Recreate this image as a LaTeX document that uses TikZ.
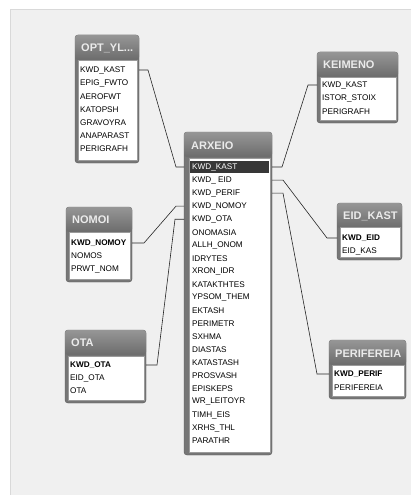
\documentclass[tikz,border=0pt]{standalone}
\usepackage{fontspec}
\setmainfont{Liberation Sans}
\usetikzlibrary{calc}
\definecolor{canvasgray}{RGB}{240,240,240}
\definecolor{hdrtop}{RGB}{150,150,150}
\definecolor{hdrbot}{RGB}{108,108,108}
\definecolor{framegray}{RGB}{118,118,118}
\definecolor{frameedge}{RGB}{88,88,88}
\definecolor{selrow}{RGB}{55,55,55}

\tikzset{
  tblframe/.style={draw=frameedge, fill=framegray, rounded corners=3pt, inner sep=0pt, outer sep=0pt, anchor=north west},
  tblhead/.style={rounded corners=3pt, top color=hdrtop, bottom color=hdrbot, inner sep=0pt, outer sep=0pt, anchor=north west, minimum height=25pt},
  tbltitle/.style={font=\fontsize{11}{12}\selectfont\bfseries, text=white!92!black, anchor=west, inner sep=0pt},
  tblbody/.style={draw=frameedge!60, fill=white, inner sep=0pt, outer sep=0pt, anchor=north west},
  field/.style={font=\fontsize{8.2}{9}\selectfont, anchor=west, inner sep=0pt, text=black},
  keyfield/.style={field, font=\fontsize{8.2}{9}\selectfont\bfseries, text=black},
  link/.style={draw=black!85, line width=0.6pt},
}

\begin{document}
\begin{tikzpicture}[x=1pt, y=-1pt]
  \useasboundingbox (0,0) rectangle (411,495);
  \fill[canvasgray] (10,9) rectangle (411,495);
  \draw[black!15] (10,495) -- (10,9) -- (411,9);

  % OPT_YL... table
  \node[tblframe, minimum width=64pt, minimum height=128pt] (opt) at (75,35) {};
  \node[tblhead, minimum width=64pt] (opthead) at (75,35) {};
  \node[tbltitle] (opttitle) at (81,48) {OPT\_YL...};
  \node[tblbody, minimum width=59pt, minimum height=100pt] (optbody) at (78,60) {};
  \foreach \name [count=\i] in {KWD\_KAST, EPIG\_FWTO, AEROFWT, KATOPSH, GRAVOYRA, ANAPARAST, PERIGRAFH}
    \node[field] (opt-\i) at (80,{70+13.1*(\i-1)}) {\name};

  % ARXEIO table
  \node[tblframe, minimum width=88pt, minimum height=323pt] (arx) at (184,132) {};
  \node[tblhead, minimum width=88pt] (arxhead) at (184,132) {};
  \node[tbltitle] (arxtitle) at (191,146) {ARXEIO};
  \node[tblbody, minimum width=81pt, minimum height=294pt] (arxbody) at (189,158) {};
  \fill[selrow] (190,161) rectangle (269,173);
  \node[field, text=white] (arx-1) at (192,167) {KWD\_KAST};
  \foreach \name [count=\i from 2] in {KWD\_ EID, KWD\_PERIF, KWD\_NOMOY, KWD\_OTA, ONOMASIA, ALLH\_ONOM, IDRYTES, XRON\_IDR, KATAKTHTES, YPSOM\_THEM, EKTASH, PERIMETR, SXHMA, DIASTAS, KATASTASH, PROSVASH, EPISKEPS, WR\_LEITOYR, TIMH\_EIS, XRHS\_THL, PARATHR}
    \node[field] (arx-\i) at (192,{167+13.05*(\i-1)}) {\name};

  % KEIMENO table
  \node[tblframe, minimum width=81pt, minimum height=71pt] (kei) at (317,52) {};
  \node[tblhead, minimum width=81pt] (keihead) at (317,52) {};
  \node[tbltitle] (keititle) at (323,65) {KEIMENO};
  \node[tblbody, minimum width=76pt, minimum height=43pt] (keibody) at (320,77) {};
  \foreach \name [count=\i] in {KWD\_KAST, ISTOR\_STOIX, PERIGRAFH}
    \node[field] (kei-\i) at (322,{85+13.4*(\i-1)}) {\name};

  % EID_KAST table
  \node[tblframe, minimum width=65pt, minimum height=57pt] (eid) at (337,203) {};
  \node[tblhead, minimum width=65pt] (eidhead) at (337,203) {};
  \node[tbltitle] (eidtitle) at (343,216) {EID\_KAST};
  \node[tblbody, minimum width=60pt, minimum height=30pt] (eidbody) at (340,227) {};
  \node[keyfield] (eid-1) at (342,238) {KWD\_EID};
  \node[field] (eid-2) at (342,251) {EID\_KAS};

  % PERIFEREIA table
  \node[tblframe, minimum width=77pt, minimum height=59pt] (per) at (329,340) {};
  \node[tblhead, minimum width=77pt] (perhead) at (329,340) {};
  \node[tbltitle] (pertitle) at (335,354) {PERIFEREIA};
  \node[tblbody, minimum width=72pt, minimum height=31pt] (perbody) at (332,365) {};
  \node[keyfield] (per-1) at (334,374) {KWD\_PERIF};
  \node[field] (per-2) at (334,388) {PERIFEREIA};

  % NOMOI table
  \node[tblframe, minimum width=66pt, minimum height=75pt] (nom) at (66,207) {};
  \node[tblhead, minimum width=66pt] (nomhead) at (66,207) {};
  \node[tbltitle] (nomtitle) at (72,220) {NOMOI};
  \node[tblbody, minimum width=61pt, minimum height=47pt] (nombody) at (69,232) {};
  \node[keyfield] (nom-1) at (71,243) {KWD\_NOMOY};
  \node[field] (nom-2) at (71,256) {NOMOS};
  \node[field] (nom-3) at (71,269) {PRWT\_NOM};

  % OTA table
  \node[tblframe, minimum width=81pt, minimum height=73pt] (ota) at (65,330) {};
  \node[tblhead, minimum width=81pt] (otahead) at (65,330) {};
  \node[tbltitle] (otatitle) at (71,343) {OTA};
  \node[tblbody, minimum width=76pt, minimum height=44pt] (otabody) at (68,356) {};
  \node[keyfield] (ota-1) at (70,365) {KWD\_OTA};
  \node[field] (ota-2) at (70,378) {EID\_OTA};
  \node[field] (ota-3) at (70,391) {OTA};

  % relationships
  \draw[link] (opt-1 -| opt.east) -- ++(9,0) -- ($(arx-1 -| arx.west)+(-8,0)$) -- (arx-1 -| arx.west);
  \draw[link] (arx-1 -| arx.east) -- ++(10,0) -- ($(kei-1 -| kei.west)+(-9,0)$) -- (kei-1 -| kei.west);
  \draw[link] (arx-2 -| arx.east) -- ++(11,0) -- ($(eid-1 -| eid.west)+(-10,0)$) -- (eid-1 -| eid.west);
  \draw[link] (arx-3 -| arx.east) -- ++(11,0) -- ($(per-1 -| per.west)+(-12,0)$) -- (per-1 -| per.west);
  \draw[link] (nom-1 -| nom.east) -- ++(12,0) -- ($(arx-4 -| arx.west)+(-8,0)$) -- (arx-4 -| arx.west);
  \draw[link] (ota-1 -| ota.east) -- ++(11,0) -- ($(arx-5 -| arx.west)+(-9,0)$) -- (arx-5 -| arx.west);
\end{tikzpicture}
\end{document}
